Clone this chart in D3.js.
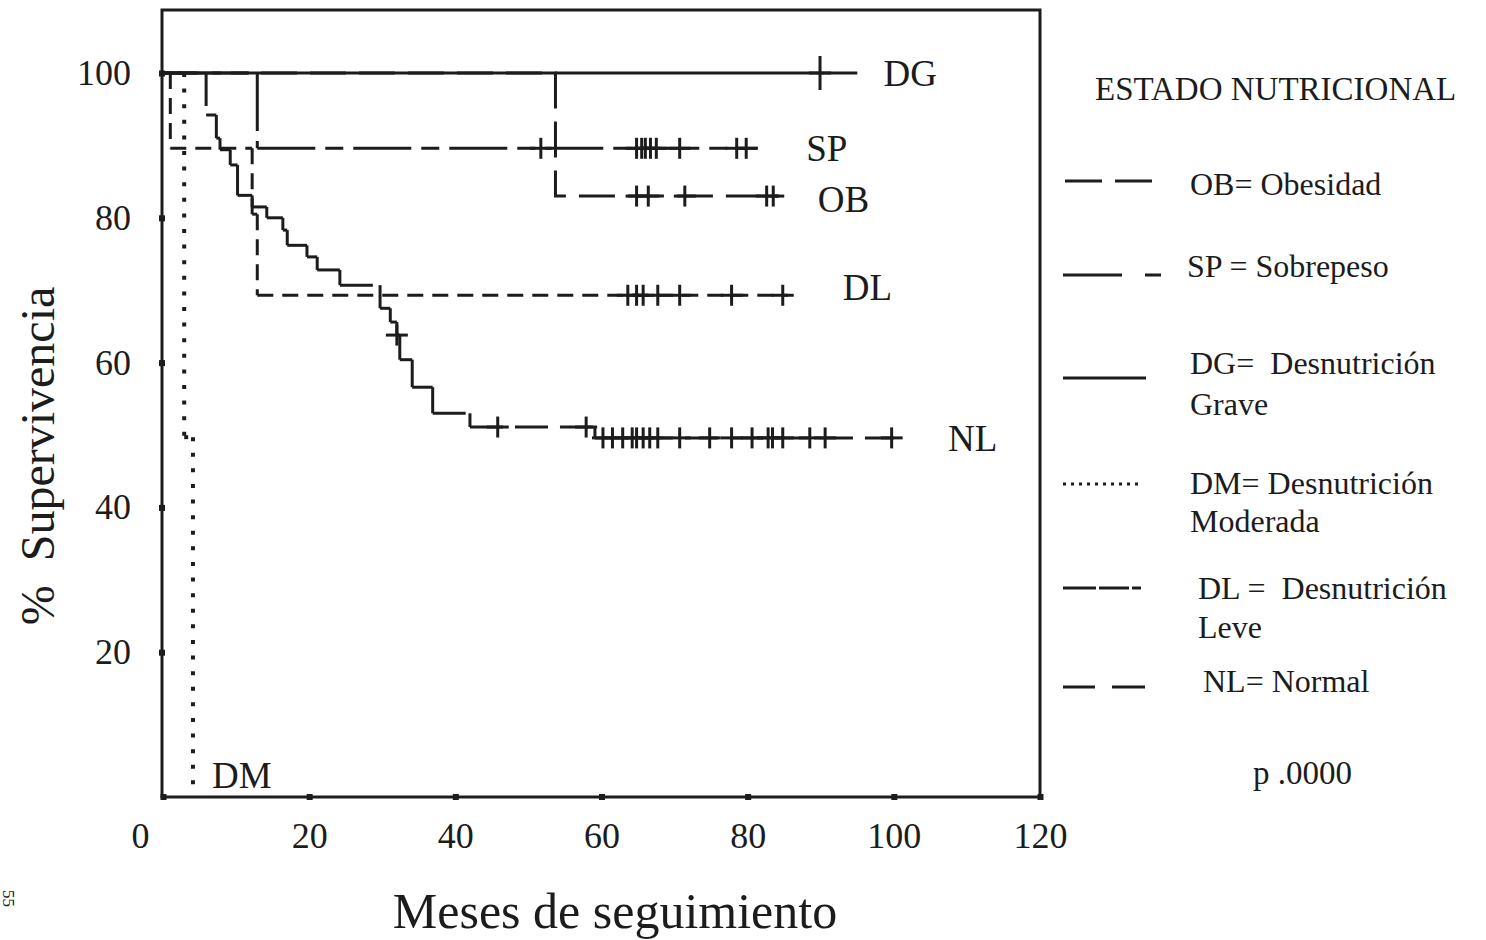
<!DOCTYPE html>
<html>
<head>
<meta charset="utf-8">
<script src="https://cdn.jsdelivr.net/npm/d3@7"></script>
<style>
  html, body { margin: 0; padding: 0; background: #fff; }
  svg { display: block; font-family: "Liberation Serif", "Times New Roman", serif; }
</style>
</head>
<body>
<svg id="chart" width="1486" height="940"></svg>
<script>
// Axis ticks
const monthTicks = [0, 20, 40, 60, 80, 100, 120];
const survivalTicks = [20, 40, 60, 80, 100];

// Kaplan–Meier curves per nutritional status.
// *Times: months of each death step; *Levels: survival (%) before the first step and after each step;
// *End: last month of follow-up; *Censored: months of censored cases.
const dgTimes = [];
const dgLevels = [100];
const dgEnd = 95;
const dgCensored = [89.9];

const spTimes = [12.9];
const spLevels = [100, 89.6];
const spEnd = 81.4;
const spCensored = [51.7, 64.8, 65.5, 66.0, 66.7, 67.5, 70.7, 78.5, 79.8];

const obTimes = [53.7];
const obLevels = [100, 83.0];
const obEnd = 84.3;
const obCensored = [64.8, 66.4, 71.4, 82.6, 83.5];

const dlTimes = [1.0, 12.2, 12.9];
const dlLevels = [100, 89.6, 80.5, 69.3];
const dlEnd = 85.5;
const dlCensored = [63.6, 64.8, 65.7, 67.7, 70.7, 77.8, 84.8];

const dmTimes = [2.9, 4.1];
const dmLevels = [100, 49.7, 0];
const dmEnd = 4.1;
const dmCensored = [];

const nlTimes = [5.9, 7.3, 7.8, 9.2, 10.2, 12.2, 14.2, 16.4, 17.0, 19.7, 21.1, 24.2,
                 29.7, 31.1, 32.0, 32.4, 34.1, 36.9, 42.0, 59.1];
const nlLevels = [100, 94.2, 91.0, 89.4, 87.3, 83.1, 81.5, 80.0, 78.3, 76.2, 74.6, 72.8, 70.7,
                  67.5, 65.6, 63.8, 60.4, 56.6, 53.0, 51.1, 49.6];
const nlEnd = 100;
const nlCensored = [32.0, 45.8, 57.9, 60.2, 61.5, 62.9, 64.2, 64.8, 65.7, 66.6, 67.7, 70.7,
                    74.8, 77.8, 80.6, 82.8, 83.4, 84.8, 88.5, 90.6, 99.7];

// Legend entries
const legendTitle = "ESTADO NUTRICIONAL";
const legendLabels = [
  ["OB= Obesidad"],
  ["SP = Sobrepeso"],
  ["DG=  Desnutrición", "Grave"],
  ["DM= Desnutrición", "Moderada"],
  ["DL =  Desnutrición", "Leve"],
  ["NL= Normal"]
];
const pValue = "p .0000";

const svg = d3.select("#chart");
const ink = "#1c1c1c";
const font = '"Liberation Serif", "Times New Roman", serif';

svg.append("rect").attr("width", 1486).attr("height", 940).attr("fill", "#fff");

const x = d3.scaleLinear().domain([0, 120]).range([163, 1040]);
const y = d3.scaleLinear().domain([0, 100]).range([797, 73]);

// Curve styles: dash pattern restarts on each straight run unless drawn as one path
const series = [
  { key: "DG", times: dgTimes, levels: dgLevels, end: dgEnd, censored: dgCensored, dash: null, continuous: false, tick: 34, width: 3 },
  { key: "SP", times: spTimes, levels: spLevels, end: spEnd, censored: spCensored, dash: "58,10,18,10", continuous: false, tick: 21, width: 3 },
  { key: "OB", times: obTimes, levels: obLevels, end: obEnd, censored: obCensored, dash: "36,13", continuous: true, tick: 21, width: 3 },
  { key: "DL", times: dlTimes, levels: dlLevels, end: dlEnd, censored: dlCensored, dash: "16,9", continuous: false, tick: 21, width: 3 },
  { key: "DM", times: dmTimes, levels: dmLevels, end: dmEnd, censored: dmCensored, dash: "4,11.6", continuous: false, tick: 21, width: 4 },
  { key: "NL", times: nlTimes, levels: nlLevels, end: nlEnd, censored: nlCensored, dash: "33,12", continuous: false, tick: 21, width: 3 }
];

function stepPoints(s) {
  const pts = [[0, s.levels[0]]];
  s.times.forEach((t, i) => {
    pts.push([t, s.levels[i]]);
    pts.push([t, s.levels[i + 1]]);
  });
  const last = s.levels[s.levels.length - 1];
  if (s.end > pts[pts.length - 1][0]) pts.push([s.end, last]);
  return pts;
}

function levelAt(s, t) {
  let k = 0;
  s.times.forEach(ti => { if (ti <= t) k++; });
  return s.levels[k];
}

const plot = svg.append("g");

series.forEach(s => {
  const pts = stepPoints(s);
  const g = plot.append("g").attr("class", "curve-" + s.key);
  if (s.continuous) {
    g.append("path")
      .attr("d", d3.line().x(d => x(d[0])).y(d => y(d[1]))(pts))
      .attr("fill", "none").attr("stroke", ink)
      .attr("stroke-width", s.width)
      .attr("stroke-dasharray", s.dash);
  } else {
    const segs = [];
    for (let i = 1; i < pts.length; i++) {
      const a = pts[i - 1], b = pts[i];
      if (a[0] !== b[0] || a[1] !== b[1]) segs.push([a, b]);
    }
    g.selectAll("line.seg").data(segs).join("line")
      .attr("class", "seg")
      .attr("x1", d => x(d[0][0])).attr("y1", d => y(d[0][1]))
      .attr("x2", d => x(d[1][0])).attr("y2", d => y(d[1][1]))
      .attr("stroke", ink).attr("stroke-width", s.width)
      .attr("stroke-dasharray", s.dash);
  }
  // censored cases
  const cz = g.selectAll("g.cens").data(s.censored).join("g").attr("class", "cens")
    .attr("transform", t => `translate(${x(t)},${y(levelAt(s, t))})`);
  cz.append("line").attr("y1", -s.tick / 2).attr("y2", s.tick / 2)
    .attr("stroke", ink).attr("stroke-width", 3);
  cz.append("line").attr("x1", -11).attr("x2", 11)
    .attr("stroke", ink).attr("stroke-width", 3);
});

// Frame
svg.append("rect")
  .attr("x", x(0) - 1).attr("y", 10)
  .attr("width", x(120) - x(0) + 1).attr("height", y(0) - 10)
  .attr("fill", "none").attr("stroke", ink).attr("stroke-width", 3);

// Y axis
const yAxis = svg.append("g").attr("transform", `translate(${x(0) - 1},0)`)
  .call(d3.axisLeft(y).tickValues(survivalTicks).tickSize(0).tickPadding(31));
yAxis.select(".domain").remove();
yAxis.selectAll("text").attr("font-family", font).attr("font-size", 36).attr("fill", ink);
yAxis.selectAll(".tick").append("rect")
  .attr("x", -3).attr("y", -3).attr("width", 6).attr("height", 6).attr("fill", ink);

// X axis
const xAxis = svg.append("g").attr("transform", `translate(0,${y(0)})`)
  .call(d3.axisBottom(x).tickValues(monthTicks).tickSize(0).tickPadding(25));
xAxis.select(".domain").remove();
xAxis.selectAll("text").attr("font-family", font).attr("font-size", 36).attr("fill", ink)
  .attr("dx", d => d === 0 ? -23 : 0);
xAxis.selectAll(".tick").append("rect")
  .attr("x", -3).attr("y", -3).attr("width", 6).attr("height", 6).attr("fill", ink);

// Axis titles
svg.append("text")
  .attr("x", 615).attr("y", 928)
  .attr("text-anchor", "middle")
  .attr("font-size", 50).attr("fill", ink)
  .text("Meses de seguimiento");

svg.append("text")
  .attr("transform", "translate(54,456) rotate(-90)")
  .attr("text-anchor", "middle")
  .attr("font-size", 48).attr("fill", ink)
  .style("white-space", "pre")
  .text("%  Supervivencia");

// Curve labels
const curveLabels = [
  { text: "DG", month: 98.6, level: 100 },
  { text: "SP", month: 88.0, level: 89.6 },
  { text: "OB", month: 89.6, level: 82.6 },
  { text: "DL", month: 93.0, level: 70.5 },
  { text: "NL", month: 107.4, level: 49.6 },
  { text: "DM", month: 6.7, level: 3.0 }
];
svg.append("g").selectAll("text").data(curveLabels).join("text")
  .attr("x", d => x(d.month)).attr("y", d => y(d.level))
  .attr("dy", "0.35em")
  .attr("font-size", 37).attr("fill", ink)
  .text(d => d.text);

// Legend
const legend = svg.append("g");
legend.append("text").attr("x", 1095).attr("y", 100)
  .attr("font-size", 33).attr("fill", ink).text(legendTitle);

const legendRows = [
  { lineY: 181, dash: "37,13", x1: 1065, x2: 1152, w: 3, textX: 1190, base: [195] },
  { lineY: 275, dash: "59,23,16,200", x1: 1063, x2: 1161, w: 3, textX: 1187, base: [277] },
  { lineY: 378, dash: null, x1: 1063, x2: 1146, w: 3, textX: 1190, base: [374, 415] },
  { lineY: 484, dash: "3,5", x1: 1063, x2: 1143, w: 3, textX: 1190, base: [494, 532] },
  { lineY: 588, dash: "33,3,30,3,9,200", x1: 1063, x2: 1142, w: 3, textX: 1198, base: [599, 638] },
  { lineY: 687, dash: "32,17,33,200", x1: 1063, x2: 1145, w: 3, textX: 1203, base: [692] }
];
legendRows.forEach((r, i) => {
  legend.append("line")
    .attr("x1", r.x1).attr("x2", r.x2).attr("y1", r.lineY).attr("y2", r.lineY)
    .attr("stroke", ink).attr("stroke-width", r.w)
    .attr("stroke-dasharray", r.dash);
  legendLabels[i].forEach((t, j) => {
    legend.append("text").attr("x", r.textX).attr("y", r.base[j])
      .attr("font-size", 32).attr("fill", ink)
      .style("white-space", "pre")
      .text(t);
  });
});
legend.append("text").attr("x", 1253).attr("y", 784)
  .attr("font-size", 33).attr("fill", ink).text(pValue);

// Page number
svg.append("text")
  .attr("transform", "translate(3,890) rotate(90)")
  .attr("font-size", 17).attr("fill", ink)
  .text("55");
</script>
</body>
</html>
